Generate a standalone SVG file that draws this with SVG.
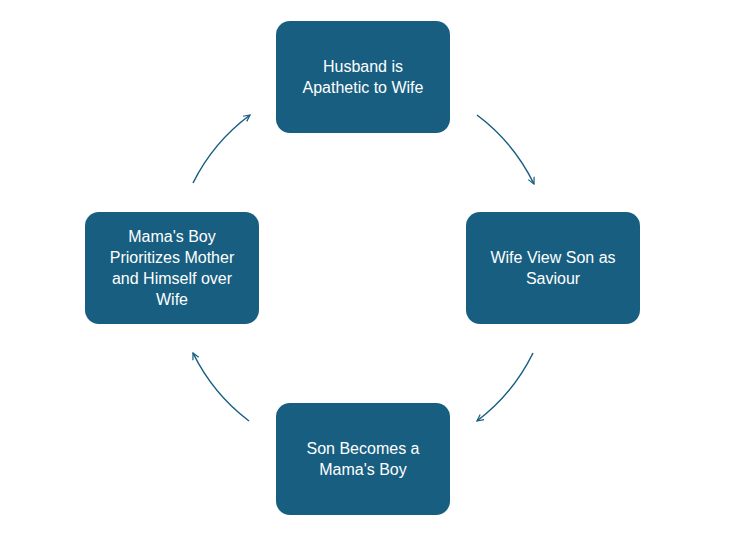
<svg xmlns="http://www.w3.org/2000/svg" width="738" height="535" viewBox="0 0 738 535">
<style>
.n{fill:#175e80}
.t{fill:#fff;font-family:"Liberation Sans",Arial,sans-serif;font-size:16px;text-anchor:middle}
.c{fill:none;stroke:#175e80;stroke-width:1.5;marker-end:url(#a)}
</style>
<defs><marker id="a" viewBox="0 0 10 10" refX="9" refY="5" markerWidth="8" markerHeight="8" orient="auto" markerUnits="userSpaceOnUse"><path d="M1 1L9 5L1 9" fill="none" stroke="#175e80" stroke-width="1.5"/></marker></defs>
<rect width="738" height="535" fill="#fff"/>
<g id="connectors">
<path class="c" d="M477 115A190 190 0 0 1 534 184"/>
<path class="c" d="M533 353A190 190 0 0 1 477 421"/>
<path class="c" d="M249 421A190 190 0 0 1 193 353"/>
<path class="c" d="M193 183A190 190 0 0 1 250 115"/>
</g>
<g id="n1"><rect class="n" x="276" y="21" width="174" height="112" rx="14"/><text class="t" x="363" y="72">Husband is</text><text class="t" x="363" y="93">Apathetic to Wife</text></g>
<g id="n2"><rect class="n" x="466" y="212" width="174" height="112" rx="14"/><text class="t" x="553" y="263">Wife View Son as</text><text class="t" x="553" y="284">Saviour</text></g>
<g id="n3"><rect class="n" x="276" y="403" width="174" height="112" rx="14"/><text class="t" x="363" y="454">Son Becomes a</text><text class="t" x="363" y="475">Mama's Boy</text></g>
<g id="n4"><rect class="n" x="85" y="212" width="174" height="112" rx="14"/><text class="t" x="172" y="242">Mama's Boy</text><text class="t" x="172" y="263">Prioritizes Mother</text><text class="t" x="172" y="284">and Himself over</text><text class="t" x="172" y="305">Wife</text></g>
</svg>
